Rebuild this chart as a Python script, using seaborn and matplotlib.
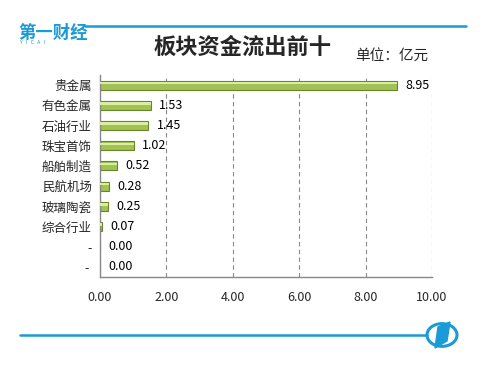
import numpy as np
import pandas as pd
import matplotlib
matplotlib.use("Agg")
import matplotlib.pyplot as plt
import seaborn as sns
from matplotlib.patches import Circle, Polygon

# data
sectors = ["贵金属", "有色金属", "石油行业", "珠宝首饰", "船舶制造",
           "民航机场", "玻璃陶瓷", "综合行业", "-", "- "]
outflow = [8.95, 1.53, 1.45, 1.02, 0.52, 0.28, 0.25, 0.07, 0.00, 0.00]
xticks = [0, 2, 4, 6, 8, 10]

df = pd.DataFrame({"sector": sectors, "value": outflow})

sns.set_style("white")
plt.rcParams['font.family'] = ['Noto Sans CJK SC', 'DejaVu Sans']

fig = plt.figure(figsize=(4.92, 3.73), dpi=100)
ax = fig.add_axes([100/492, 1 - 277/373, 332/492, 202/373])

sns.barplot(data=df, x="value", y="sector", orient="h", color="#a2c255",
            width=0.44, edgecolor="#6a842a", linewidth=0.8, ax=ax, saturation=1)
# lighter highlight stripe to mimic the gradient
ax.barh(np.arange(len(outflow)) - 0.09, outflow, height=0.12,
        color="#d9ee9e", linewidth=0, zorder=3)

# value labels
for i, v in enumerate(outflow):
    ax.text(v + 0.25, i, f"{v:.2f}", va="center", ha="left", fontsize=9, color="black")

ax.set_xlim(0, 10)
ax.set_ylim(len(sectors) - 0.5, -0.5)
ax.set_xticks(xticks)
ax.set_xticklabels([f"{t:.2f}" for t in xticks], fontsize=9)
ax.set_xlabel("")
ax.set_ylabel("")
ax.tick_params(axis="y", labelsize=9, length=0, pad=6)
ax.tick_params(axis="x", length=4, color="#888888", direction="out", pad=6)
ax.set_yticks(np.arange(-0.5, len(sectors)), minor=True)
ax.tick_params(axis="y", which="minor", length=4, color="#888888")

for t in xticks[1:]:
    ax.axvline(t, color="#888888", linestyle=(0, (4, 3)), linewidth=0.8, zorder=0)

for s in ["top", "right"]:
    ax.spines[s].set_visible(False)
for s in ["left", "bottom"]:
    ax.spines[s].set_color("#888888")
    ax.spines[s].set_linewidth(1)

# header
blue = "#1a9ad6"
fig.add_artist(plt.Line2D([85/492, 466/492], [1 - 26/373, 1 - 26/373], color=blue, lw=1.8))
fig.text(18/492, 1 - 33/373, "第一财经", fontsize=12.5, color=blue, fontweight="bold", va="center")
fig.text(20/492, 1 - 43/373, "Y   I   C   A   I", fontsize=3.5, color=blue, va="center")
fig.text(243/492, 1 - 47/373, "板块资金流出前十", fontsize=16, fontweight="bold", ha="center", va="center")
fig.text(355/492, 1 - 56/373, "单位：亿元", fontsize=10.5, ha="left", va="center")

# footer
fig.add_artist(plt.Line2D([20/492, 427/492], [1 - 335/373, 1 - 335/373], color=blue, lw=1.8))
cx, cy, r = 442, 335, 15
fig.add_artist(Circle((cx/492, 1 - cy/373), r/492, transform=fig.transFigure,
                      fill=False, edgecolor=blue, lw=2.2))
poly = [(cx - 4, cy - 8), (cx + 8, cy - 13), (cx + 5, cy + 6), (cx - 7, cy + 13)]
fig.add_artist(Polygon([(x/492, 1 - y/373) for x, y in poly], closed=True,
                       transform=fig.transFigure, color=blue))

fig.savefig("out.png", dpi=100)
